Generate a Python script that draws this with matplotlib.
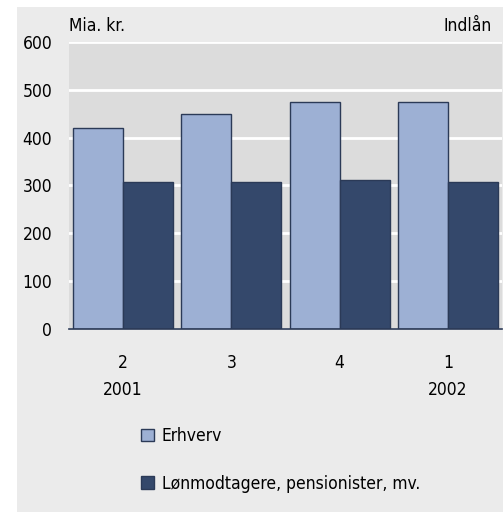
import matplotlib.pyplot as plt
from matplotlib.patches import Rectangle, Patch
import numpy as np

plt.rcParams['font.family'] = ['DejaVu Sans']
plt.rcParams['font.stretch'] = 'condensed'

quarters = ['2', '3', '4', '1']
years = ['2001', '', '', '2002']
erhverv = [420, 449, 474, 474]
loenmodtagere = [307, 308, 312, 307]
series_names = ['Erhverv', 'Lønmodtagere, pensionister, mv.']

light = '#9db0d4'
dark = '#34486b'
edge = '#2b3a57'

fig = plt.figure(figsize=(5.04, 5.13), dpi=100)
fig.patch.set_facecolor('white')
# outer light-grey panel
fig.patches.append(Rectangle((17 / 504, 1 / 513), 486 / 504, 505 / 513,
                             transform=fig.transFigure, facecolor='#ebebeb',
                             edgecolor='none', zorder=-1))

ax = fig.add_axes([69 / 504, 1 - 329 / 513, 433 / 504, 287 / 513])
ax.set_zorder(1)
ax.set_facecolor('#dcdcdc')

x = np.arange(len(quarters))
w = 0.463
ax.bar(x - w / 2, erhverv, w, color=light, edgecolor=edge, linewidth=1, zorder=3)
ax.bar(x + w / 2, loenmodtagere, w, color=dark, edgecolor=edge, linewidth=1, zorder=3)

ax.set_xlim(-0.5, 3.5)
ax.set_ylim(0, 600)
ax.set_yticks(range(0, 601, 100))
ax.yaxis.grid(True, color='white', linewidth=2)
ax.set_axisbelow(True)
for s in ['top', 'right', 'left']:
    ax.spines[s].set_visible(False)
ax.spines['bottom'].set_color(edge)
ax.spines['bottom'].set_linewidth(1.2)
ax.spines['bottom'].set_zorder(4)

ax.set_xticks(x)
ax.set_xticklabels([q + '\n' + y for q, y in zip(quarters, years)],
                   linespacing=1.65, fontsize=12.5)
ax.tick_params(axis='x', length=0, pad=18)
ax.tick_params(axis='y', length=0, pad=12, labelsize=12.5)

fig.text(69 / 504, 1 - 31 / 513, 'Mia. kr.', fontsize=12.5, ha='left', va='baseline')
fig.text(492 / 504, 1 - 31 / 513, 'Indlån', fontsize=12.5, ha='right', va='baseline')

handles = [Patch(facecolor=light, edgecolor=edge, linewidth=1),
           Patch(facecolor=dark, edgecolor=edge, linewidth=1)]
fig.legend(handles, series_names, loc='upper left',
           bbox_to_anchor=(141 / 504, 1 - 427 / 513), frameon=False,
           fontsize=12.5, handlelength=0.75, handleheight=0.75,
           handletextpad=0.45, labelspacing=1.72, borderpad=0, borderaxespad=0)

fig.savefig('out.png', dpi=100)
